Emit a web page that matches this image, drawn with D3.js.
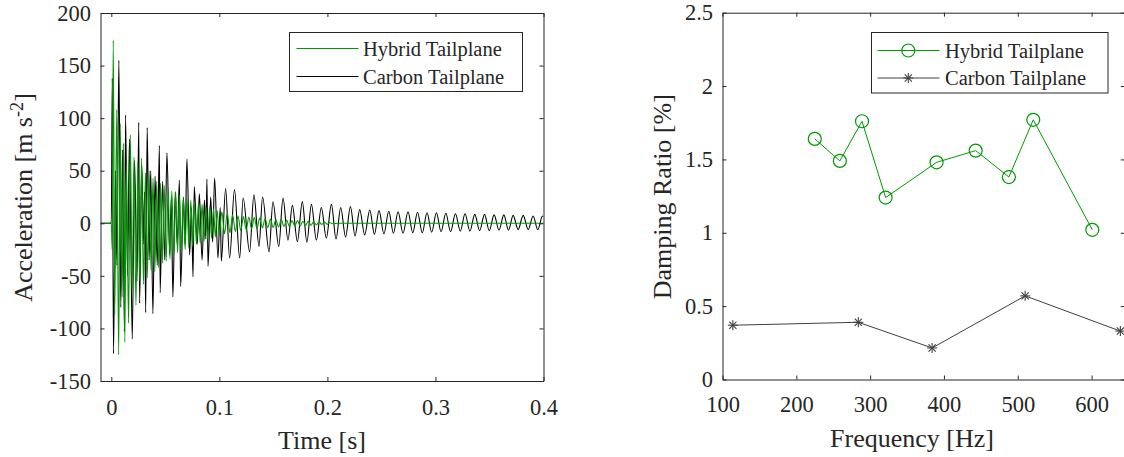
<!DOCTYPE html>
<html>
<head>
<meta charset="utf-8">
<script src="https://cdn.jsdelivr.net/npm/d3@7"></script>
<style>
  html, body { margin: 0; padding: 0; background: #fff; }
  svg { display: block; }
  text { font-family: "Liberation Serif", "Times New Roman", serif; fill: #262626; }
</style>
</head>
<body>
<svg id="chart" width="1124" height="457"></svg>
<script>
// ---------------- Data ----------------
const timeTicks = [0, 0.1, 0.2, 0.3, 0.4];
const accTicks = [-150, -100, -50, 0, 50, 100, 150, 200];
const freqTicks = [100, 200, 300, 400, 500, 600];
const dampTicks = [0, 0.5, 1, 1.5, 2, 2.5];
const seriesNames = ["Hybrid Tailplane", "Carbon Tailplane"];

// Left panel: acceleration time histories (turning points)
const carbonT = [-0.01, 0, 0.0009, 0.0020, 0.0040, 0.0052, 0.0070, 0.0088, 0.0105, 0.0121, 0.0132, 0.0150, 0.0168, 0.0194,
  0.0215, 0.0238, 0.0254, 0.0262, 0.0282, 0.0300, 0.0308, 0.0318, 0.0332, 0.0350, 0.0365, 0.0385, 0.0405, 0.0425,
  0.0445, 0.0452, 0.0475, 0.0495, 0.0515, 0.0540, 0.0555, 0.0570, 0.0592, 0.0610, 0.0630, 0.0642, 0.0668, 0.0682,
  0.0700, 0.0725, 0.0742, 0.0756, 0.0768, 0.0795, 0.0815, 0.0840, 0.0862, 0.0875, 0.0885, 0.0895, 0.0920, 0.0938,
  0.0956, 0.0987, 0.1008, 0.1018, 0.1058, 0.1095, 0.1140, 0.1188, 0.1220, 0.1280, 0.1320, 0.1367, 0.1400, 0.1460,
  0.1496, 0.1550, 0.1589, 0.1635, 0.1676, 0.1722, 0.1768, 0.1810, 0.1852, 0.1898, 0.1944, 0.1990, 0.2037, 0.2080,
  0.2123, 0.2168, 0.2213, 0.2256, 0.2299, 0.2345, 0.2392, 0.2435, 0.2478, 0.2523, 0.2568, 0.2611, 0.2654, 0.2700,
  0.2746, 0.2790, 0.2834, 0.2878, 0.2922, 0.2965, 0.3009, 0.3052, 0.3096, 0.3140, 0.3185, 0.3230, 0.3274, 0.3319,
  0.3364, 0.3409, 0.3454, 0.3498, 0.3543, 0.3588, 0.3633, 0.3676, 0.3719, 0.3765, 0.3812, 0.3858, 0.3904, 0.3947,
  0.3991, 0.4000];
const carbonA = [0, 0, 138, -124, 50, -40, 155, -80, 70, -103, 103, -50, 80, -110,
  60, -55, 96, -76, 55, -20, 30, -85, 91, -35, 50, -86, 45, -40,
  74, -66, 40, -35, 67, -30, 25, -70, 30, -20, 41, -60, 25, -20,
  61, -30, 15, -51, 35, -20, 28, -35, 22, -15, 42, -41, 25, -18,
  43, -33, 15, -36, 33, -33, 32, -33, 24, -27, 27, -22, 25, -27,
  20.5, -22, 24, -16, 17, -17.5, 20.6, -18, 18, -16, 15, -14, 18, -15,
  15, -13, 16, -12, 13, -11, 12.7, -10.5, 12, -10, 11.5, -9.5, 11, -9.5,
  11, -9, 10.5, -9, 10, -8.5, 10, -8, 9.5, -8, 9, -7.5, 9, -7.5,
  8.5, -7, 8.5, -7, 8, -6.5, 8, -6.5, 7.5, -6, 7.5, -6, 7, -6,
  7, 6.5];

const hybridT = [-0.01, 0, 0.0008, 0.0018, 0.0032, 0.0050, 0.0068, 0.0083, 0.0100, 0.0114, 0.0125, 0.0140, 0.0160, 0.0176,
  0.0193, 0.0210, 0.0228, 0.0246, 0.0263, 0.0280, 0.0298, 0.0316, 0.0333, 0.0350, 0.0368, 0.0386, 0.0403, 0.0420,
  0.0438, 0.0456, 0.0473, 0.0490, 0.0508, 0.0526, 0.0543, 0.0560, 0.0578, 0.0596, 0.0613, 0.0630, 0.0648, 0.0666,
  0.0683, 0.0700, 0.0718, 0.0736, 0.0753, 0.0770, 0.0788, 0.0806, 0.0823, 0.0840, 0.0858, 0.0876, 0.0893, 0.0910,
  0.0928, 0.0946, 0.0963, 0.0980, 0.0998, 0.1023, 0.1048, 0.1073, 0.1098, 0.1123, 0.1148, 0.1173, 0.1198, 0.1223,
  0.1248, 0.1273, 0.1298, 0.1323, 0.1348, 0.1373, 0.1398, 0.1423, 0.1448, 0.1473, 0.1498, 0.1523, 0.1548, 0.1573,
  0.1598, 0.1623, 0.1648, 0.1673, 0.1698, 0.1723, 0.1748, 0.1773, 0.1798, 0.1823, 0.1848, 0.1873, 0.1898, 0.1923,
  0.1948, 0.1973, 0.1998, 0.2023, 0.2048, 0.2100, 0.4000];
const hybridA = [0, 0, -25, 174, -86, 108, -125, 95, -70, 76, -113, 55, -95, 84,
  -62, 63, -78, 58, -55, 62, -58, 48, -52, 50, -45, 43, -46, 40,
  -42, 38, -38, 36, -36, 33, -34, 31, -30, 30, -28, 27, -27, 25,
  -25, 24, -23, 22, -22, 21, -20, 19, -19, 18, -17, 16, -16, 15,
  -14, 14, -13, 12, -12, 11, -10, 10, -9, 8, -8, 7, -7, 6.5,
  -6, 6, -5.5, 5.5, -5, 5, -4.5, 4.5, -4, 4, -4, 3.5, -3.5, 3.5,
  -3, 3, -3, 2.5, -2.5, 2.5, -2.5, 2, -2, 2, -2, 1.5, -1.5, 1.5,
  -1.2, 1.2, -1, 0.8, -0.5, 0, 0];

// Right panel: damping ratio vs frequency
const hybridFreq = [225, 259, 289, 321, 390, 443, 488, 521, 601];
const hybridDamp = [1.64, 1.49, 1.76, 1.24, 1.48, 1.56, 1.38, 1.77, 1.02];
const carbonFreq = [114, 284, 384, 510, 639];
const carbonDamp = [0.37, 0.39, 0.215, 0.57, 0.33];

// ---------------- Styles ----------------
const GREEN = "#009900";
const BLACK = "#000000";
const DARK = "#404040";
const AXIS = "#262626";
const TICK_FONT = 22.5;
const LABEL_FONT = 26;
const LEG_FONT = 20.5;

const svg = d3.select("#chart");

function drawBoxAxes(g, x, y, xt, yt, xPad, yPad) {
  const [x0, x1] = x.range();
  const [y0, y1] = y.range(); // y0 bottom, y1 top
  const fmt = v => String(v);
  const ax = g.append("g").attr("transform", `translate(0,${y0})`)
    .call(d3.axisBottom(x).tickValues(xt).tickFormat(fmt).tickSizeInner(-4).tickSizeOuter(0).tickPadding(xPad));
  const at = g.append("g").attr("transform", `translate(0,${y1})`)
    .call(d3.axisTop(x).tickValues(xt).tickFormat("").tickSizeInner(-4).tickSizeOuter(0));
  const ay = g.append("g").attr("transform", `translate(${x0},0)`)
    .call(d3.axisLeft(y).tickValues(yt).tickFormat(fmt).tickSizeInner(-4).tickSizeOuter(0).tickPadding(yPad));
  const ar = g.append("g").attr("transform", `translate(${x1},0)`)
    .call(d3.axisRight(y).tickValues(yt).tickFormat("").tickSizeInner(-4).tickSizeOuter(0));
  [ax, at, ay, ar].forEach(a => {
    a.selectAll("path.domain").attr("stroke", AXIS).attr("stroke-width", 1);
    a.selectAll(".tick line").attr("stroke", AXIS).attr("stroke-width", 1);
    a.selectAll("text").style("font-family", '"Liberation Serif", serif')
      .style("font-size", TICK_FONT + "px").attr("fill", AXIS);
  });
}

// ---------------- Left panel ----------------
{
  const x = d3.scaleLinear().domain([-0.01, 0.4]).range([100.5, 543.5]);
  const y = d3.scaleLinear().domain([-150, 200]).range([381, 13]);
  const g = svg.append("g");

  g.append("clipPath").attr("id", "clipL").append("rect")
    .attr("x", 100.5).attr("y", 13).attr("width", 443).attr("height", 368);

  const line = d3.line().x(d => x(d[0])).y(d => y(d[1])).curve(d3.curveMonotoneX);
  const cData = carbonT.map((t, i) => [t, carbonA[i]]);
  const hData = hybridT.map((t, i) => [t, hybridA[i]]);
  const plot = g.append("g").attr("clip-path", "url(#clipL)");
  plot.append("path").datum(cData).attr("d", line).attr("fill", "none")
    .attr("stroke", BLACK).attr("stroke-width", 1.1);
  plot.append("path").datum(hData).attr("d", line).attr("fill", "none")
    .attr("stroke", GREEN).attr("stroke-width", 1.1);

  drawBoxAxes(g, x, y, timeTicks, accTicks, 18, 9.5);

  // labels
  g.append("text").attr("x", 322).attr("y", 449).attr("text-anchor", "middle")
    .style("font-size", LABEL_FONT + "px").text("Time [s]");
  const yl = g.append("text").attr("transform", "translate(32,197.5) rotate(-90)")
    .attr("text-anchor", "middle").style("font-size", LABEL_FONT + "px");
  yl.append("tspan").text("Acceleration [m s");
  yl.append("tspan").attr("dy", "-0.5em").style("font-size", (LABEL_FONT * 0.7) + "px").text("-2");
  yl.append("tspan").attr("dy", "0.36em").text("]");

  // legend
  const lg = g.append("g");
  lg.append("rect").attr("x", 289.5).attr("y", 32.5).attr("width", 233).attr("height", 59)
    .attr("fill", "#fff").attr("stroke", AXIS).attr("stroke-width", 1);
  const cols = [GREEN, BLACK];
  const ly = [48.5, 76.5];
  seriesNames.forEach((n, i) => {
    lg.append("line").attr("x1", 296.5).attr("x2", 358.5).attr("y1", ly[i]).attr("y2", ly[i])
      .attr("stroke", cols[i]).attr("stroke-width", 1.1);
    lg.append("text").attr("x", 363).attr("y", ly[i] + 7).style("font-size", LEG_FONT + "px")
      .attr("fill", "#000").text(n);
  });
}

// ---------------- Right panel ----------------
{
  const x = d3.scaleLinear().domain([100, 645]).range([722.5, 1124.8]);
  const y = d3.scaleLinear().domain([0, 2.5]).range([379.5, 12.7]);
  const g = svg.append("g");

  drawBoxAxes(g, x, y, freqTicks, dampTicks, 17, 9.5);

  const line = d3.line().x(d => x(d[0])).y(d => y(d[1]));
  const hData = hybridFreq.map((f, i) => [f, hybridDamp[i]]);
  const cData = carbonFreq.map((f, i) => [f, carbonDamp[i]]);

  g.append("path").datum(cData).attr("d", line).attr("fill", "none")
    .attr("stroke", DARK).attr("stroke-width", 1);
  g.append("path").datum(hData).attr("d", line).attr("fill", "none")
    .attr("stroke", GREEN).attr("stroke-width", 1);

  function star(sel, cx, cy, r) {
    const gg = sel.append("g").attr("transform", `translate(${cx},${cy})`)
      .attr("stroke", DARK).attr("stroke-width", 1.1);
    gg.append("line").attr("x1", 0).attr("y1", -r).attr("x2", 0).attr("y2", r);
    gg.append("line").attr("x1", -r).attr("y1", 0).attr("x2", r).attr("y2", 0);
    const d = r * 0.72;
    gg.append("line").attr("x1", -d).attr("y1", -d).attr("x2", d).attr("y2", d);
    gg.append("line").attr("x1", -d).attr("y1", d).attr("x2", d).attr("y2", -d);
  }
  function circ(sel, cx, cy) {
    sel.append("circle").attr("cx", cx).attr("cy", cy).attr("r", 6.5)
      .attr("fill", "none").attr("stroke", GREEN).attr("stroke-width", 1.2);
  }
  hData.forEach(d => circ(g, x(d[0]), y(d[1])));
  cData.forEach(d => star(g, x(d[0]), y(d[1]), 5));

  g.append("text").attr("x", 912).attr("y", 447).attr("text-anchor", "middle")
    .style("font-size", LABEL_FONT + "px").text("Frequency [Hz]");
  g.append("text").attr("transform", "translate(670.5,196.7) rotate(-90)")
    .attr("text-anchor", "middle").style("font-size", LABEL_FONT + "px").text("Damping Ratio [%]");

  // legend
  const lg = g.append("g");
  lg.append("rect").attr("x", 871.5).attr("y", 32.5).attr("width", 236.5).attr("height", 60.5)
    .attr("fill", "#fff").attr("stroke", AXIS).attr("stroke-width", 1);
  const ly = [50.5, 78];
  lg.append("line").attr("x1", 877.5).attr("x2", 939.5).attr("y1", ly[0]).attr("y2", ly[0])
    .attr("stroke", GREEN).attr("stroke-width", 1);
  circ(lg, 908.3, ly[0]);
  lg.append("line").attr("x1", 877.5).attr("x2", 939.5).attr("y1", ly[1]).attr("y2", ly[1])
    .attr("stroke", DARK).attr("stroke-width", 1);
  star(lg, 908.3, ly[1], 5);
  seriesNames.forEach((n, i) => {
    lg.append("text").attr("x", 945).attr("y", ly[i] + 7).style("font-size", LEG_FONT + "px")
      .attr("fill", "#000").text(n);
  });
}
</script>
</body>
</html>
